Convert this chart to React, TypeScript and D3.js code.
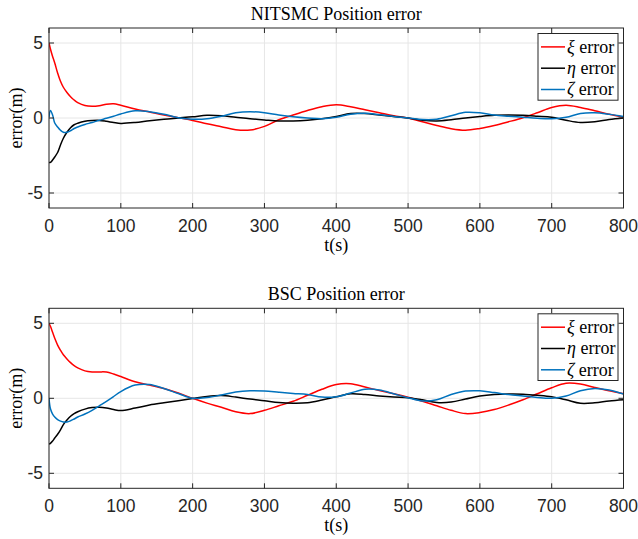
import React, { useEffect, useRef } from "react";
import * as d3 from "d3";

// sample times (s)
const times = [0, 2, 5, 8, 12, 16, 20, 25, 30, 35, 40, 50, 60, 70, 80, 90, 100, 120, 140, 160, 180, 200, 220, 240, 260, 280, 300, 320, 340, 360, 380, 400, 420, 440, 460, 480, 500, 520, 540, 560, 580, 600, 620, 640, 660, 680, 700, 720, 740, 760, 780, 800];

// NITSMC
const nitXi = [5, 4.6, 4.1, 3.67, 3.0, 2.45, 2.05, 1.7, 1.42, 1.2, 1.03, 0.83, 0.78, 0.82, 0.92, 0.95, 0.85, 0.6, 0.4, 0.2, 0.02, -0.16, -0.38, -0.58, -0.78, -0.8, -0.56, -0.12, 0.2, 0.5, 0.75, 0.88, 0.75, 0.55, 0.35, 0.15, 0.0, -0.25, -0.5, -0.72, -0.82, -0.7, -0.5, -0.25, 0.02, 0.35, 0.7, 0.85, 0.7, 0.48, 0.25, 0.05];
const nitEta = [-2.96, -2.96, -2.8, -2.6, -2.3, -1.8, -1.35, -0.95, -0.65, -0.45, -0.35, -0.22, -0.17, -0.16, -0.22, -0.3, -0.36, -0.3, -0.18, -0.08, 0, 0.08, 0.18, 0.15, 0.05, -0.05, -0.13, -0.2, -0.2, -0.15, -0.05, 0.1, 0.3, 0.3, 0.2, 0.1, 0.0, -0.15, -0.2, -0.12, 0, 0.1, 0.18, 0.2, 0.18, 0.12, 0.05, -0.15, -0.3, -0.25, -0.1, 0.0];
const nitZeta = [0.05, 0.5, 0.2, -0.33, -0.6, -0.82, -0.95, -0.95, -0.85, -0.7, -0.6, -0.43, -0.3, -0.15, -0.02, 0.12, 0.27, 0.48, 0.42, 0.25, 0.02, -0.08, -0.05, 0.12, 0.35, 0.42, 0.35, 0.2, 0.08, 0.0, -0.05, 0.05, 0.25, 0.32, 0.22, 0.1, 0.0, -0.1, -0.08, 0.15, 0.38, 0.35, 0.2, 0.12, 0.05, -0.02, -0.05, 0.05, 0.3, 0.35, 0.25, 0.1];

// BSC
const bscXi = [5, 4.8, 4.4, 4.0, 3.55, 3.2, 2.9, 2.62, 2.38, 2.18, 2.03, 1.83, 1.76, 1.76, 1.75, 1.62, 1.45, 1.1, 0.88, 0.65, 0.35, 0.0, -0.32, -0.6, -0.9, -1.02, -0.8, -0.5, -0.2, 0.2, 0.6, 0.92, 0.97, 0.75, 0.52, 0.3, 0.07, -0.2, -0.5, -0.8, -1.02, -0.95, -0.75, -0.45, -0.1, 0.3, 0.7, 1.0, 0.95, 0.72, 0.5, 0.3];
const bscEta = [-3.05, -3.0, -2.85, -2.65, -2.4, -2.1, -1.75, -1.45, -1.2, -1.02, -0.9, -0.72, -0.62, -0.6, -0.65, -0.75, -0.82, -0.65, -0.45, -0.3, -0.16, -0.02, 0.12, 0.18, 0.08, -0.05, -0.16, -0.28, -0.33, -0.3, -0.12, 0.1, 0.3, 0.25, 0.15, 0.08, 0.04, -0.1, -0.28, -0.25, -0.05, 0.15, 0.25, 0.28, 0.27, 0.2, 0.1, -0.1, -0.33, -0.3, -0.18, -0.1];
const bscZeta = [0.0, -0.7, -1.05, -1.25, -1.42, -1.52, -1.58, -1.58, -1.5, -1.38, -1.25, -1.05, -0.8, -0.5, -0.2, 0.12, 0.45, 0.88, 0.92, 0.65, 0.32, 0.0, 0.05, 0.22, 0.42, 0.5, 0.48, 0.4, 0.32, 0.25, 0.08, 0.1, 0.35, 0.6, 0.55, 0.3, 0.04, -0.18, -0.1, 0.25, 0.48, 0.5, 0.38, 0.25, 0.15, 0.05, 0.0, 0.15, 0.5, 0.65, 0.55, 0.29];

const titles = ["NITSMC Position error", "BSC Position error"];
const panelSeries = [
  [nitXi, nitEta, nitZeta],
  [bscXi, bscEta, bscZeta],
];
const greek = ["ξ", "η", "ζ"];
const colors = ["#ff0000", "#000000", "#0072bd"];
const xTicks = [0, 100, 200, 300, 400, 500, 600, 700, 800];
const yTicks = [-5, 0, 5];

export default function App() {
  const svgRef = useRef<SVGSVGElement>(null);

  useEffect(() => {
    const svg = d3.select(svgRef.current);
    svg.selectAll("*").remove();

    const left = 49;
    const right = 623.5;
    const ph = 180;
    const tops = [28, 308.3];
    const axisColor = "#262626";
    const sans = "'Liberation Sans', Arial, sans-serif";
    const serif = "'Liberation Serif', 'Times New Roman', serif";

    const x = d3.scaleLinear().domain([0, 800]).range([left, right]);

    panelSeries.forEach((series, pi) => {
      const top = tops[pi];
      const y = d3.scaleLinear().domain([-6, 6]).range([top + ph, top]);
      const g = svg.append("g");

      g.append("rect")
        .attr("x", left).attr("y", top)
        .attr("width", right - left).attr("height", ph)
        .attr("fill", "#fff");

      // grid
      g.selectAll(".gx").data(xTicks).join("line")
        .attr("x1", (d) => x(d)).attr("x2", (d) => x(d))
        .attr("y1", top).attr("y2", top + ph)
        .attr("stroke", "#e6e6e6").attr("stroke-width", 1);
      g.selectAll(".gy").data(yTicks).join("line")
        .attr("y1", (d) => y(d)).attr("y2", (d) => y(d))
        .attr("x1", left).attr("x2", right)
        .attr("stroke", "#e6e6e6").attr("stroke-width", 1);

      // lines
      const clipId = "clip" + pi;
      g.append("clipPath").attr("id", clipId)
        .append("rect")
        .attr("x", left).attr("y", top)
        .attr("width", right - left).attr("height", ph);

      const line = d3.line<number>()
        .x((d, i) => x(times[i]))
        .y((d) => y(d))
        .curve(d3.curveCatmullRom.alpha(0.5));

      g.append("g").attr("clip-path", `url(#${clipId})`)
        .selectAll("path").data(series).join("path")
        .attr("d", (d) => line(d))
        .attr("fill", "none")
        .attr("stroke", (d, i) => colors[i])
        .attr("stroke-width", 1.5);

      // box
      g.append("rect")
        .attr("x", left).attr("y", top)
        .attr("width", right - left).attr("height", ph)
        .attr("fill", "none").attr("stroke", axisColor).attr("stroke-width", 1);

      // ticks (inward, all sides)
      const tl = 5;
      xTicks.forEach((t) => {
        g.append("line").attr("x1", x(t)).attr("x2", x(t))
          .attr("y1", top + ph).attr("y2", top + ph - tl).attr("stroke", axisColor);
        g.append("line").attr("x1", x(t)).attr("x2", x(t))
          .attr("y1", top).attr("y2", top + tl).attr("stroke", axisColor);
      });
      yTicks.forEach((t) => {
        g.append("line").attr("x1", left).attr("x2", left + tl)
          .attr("y1", y(t)).attr("y2", y(t)).attr("stroke", axisColor);
        g.append("line").attr("x1", right).attr("x2", right - tl)
          .attr("y1", y(t)).attr("y2", y(t)).attr("stroke", axisColor);
      });

      // tick labels
      g.selectAll(".xl").data(xTicks).join("text")
        .attr("x", (d) => x(d)).attr("y", top + ph + 23.5)
        .attr("text-anchor", "middle")
        .attr("font-family", sans).attr("font-size", 17.5)
        .attr("fill", axisColor)
        .text((d) => d);
      g.selectAll(".yl").data(yTicks).join("text")
        .attr("x", left - 6).attr("y", (d) => y(d))
        .attr("dy", "0.35em")
        .attr("text-anchor", "end")
        .attr("font-family", sans).attr("font-size", 17.5)
        .attr("fill", axisColor)
        .text((d) => d);

      // axis labels
      g.append("text")
        .attr("x", (left + right) / 2).attr("y", top + ph + 42.5)
        .attr("text-anchor", "middle")
        .attr("font-family", serif).attr("font-size", 18)
        .text("t(s)");
      g.append("text")
        .attr("transform", `translate(22,${top + ph / 2}) rotate(-90)`)
        .attr("text-anchor", "middle")
        .attr("font-family", serif).attr("font-size", 18)
        .text("error(m)");

      // title
      g.append("text")
        .attr("x", (left + right) / 2).attr("y", top - 8.5)
        .attr("text-anchor", "middle")
        .attr("font-family", serif).attr("font-size", 18)
        .text(titles[pi]);

      // legend
      const lx = 538;
      const ly = top + 5.5;
      g.append("rect")
        .attr("x", lx).attr("y", ly)
        .attr("width", 80).attr("height", 66.7)
        .attr("fill", "#fff").attr("stroke", axisColor).attr("stroke-width", 1);
      greek.forEach((gk, i) => {
        const cy = ly + 13.4 + i * 21.3;
        g.append("line")
          .attr("x1", lx + 3).attr("x2", lx + 27)
          .attr("y1", cy).attr("y2", cy)
          .attr("stroke", colors[i]).attr("stroke-width", 1.5);
        const t = g.append("text")
          .attr("x", lx + 29).attr("y", cy).attr("dy", "0.33em")
          .attr("font-family", serif).attr("font-size", 18);
        t.append("tspan").attr("font-style", "italic").text(gk);
        t.append("tspan").text(" error");
      });
    });
  }, []);

  return (
    <svg
      ref={svgRef}
      width={638}
      height={539}
      style={{ position: "absolute", left: 0, top: 0, background: "#fff" }}
    />
  );
}
